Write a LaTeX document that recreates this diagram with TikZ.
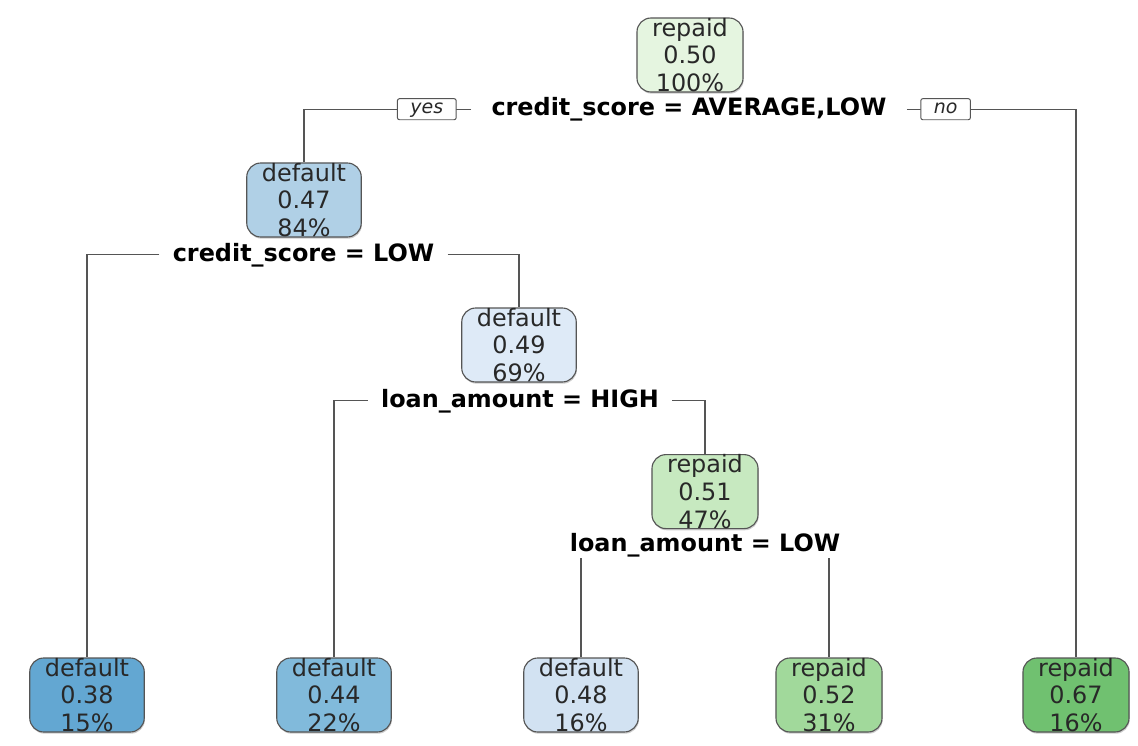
\documentclass[tikz,border=0pt]{standalone}
\usepackage{fontspec}
\setmainfont{DejaVu Sans}
\usepackage{xcolor}
\usetikzlibrary{shadows}
\definecolor{lineGray}{RGB}{85, 85, 85}
\definecolor{textGray}{RGB}{40, 40, 40}
\definecolor{rootGreen}{RGB}{229, 245, 224}
\definecolor{midGreen}{RGB}{199, 233, 192}
\definecolor{leafGreenA}{RGB}{161, 217, 155}
\definecolor{leafGreenB}{RGB}{112, 193, 112}
\definecolor{paleBlue}{RGB}{210, 226, 242}
\definecolor{softBlue}{RGB}{222, 234, 247}
\definecolor{midBlue}{RGB}{176, 208, 230}
\definecolor{leafBlueA}{RGB}{99, 167, 210}
\definecolor{leafBlueB}{RGB}{129, 186, 219}

\begin{document}
\begin{tikzpicture}[
  treebox/.style={draw=lineGray, line width=0.8pt, rounded corners=0.35cm, minimum height=1.85cm, inner xsep=0.38cm, inner ysep=0pt, align=center, text=textGray, font=\fontsize{17}{19.6}\selectfont, drop shadow={shadow xshift=0.5pt, shadow yshift=-1.2pt, fill=black, opacity=0.2}},
  splitlabel/.style={fill=white, inner xsep=0.33cm, inner ysep=1pt, font=\bfseries\fontsize{17}{19.6}\selectfont},
  yesno/.style={draw=lineGray, fill=white, line width=0.7pt, rounded corners=1.5pt, inner xsep=0.325cm, inner ysep=2pt, text height=8.5pt, text depth=2.5pt, font=\itshape\fontsize{13.5}{14}\selectfont, text=textGray},
  branch/.style={draw=lineGray, line width=0.8pt}
]
\useasboundingbox (0,0) rectangle (28.45,-18.65);

% inner nodes
\node[treebox, fill=rootGreen] (n1) at (17.25,-1.375) {repaid\\0.50\\100\%};
\node[treebox, fill=midBlue] (n2) at (7.6,-5.0) {default\\0.47\\84\%};
\node[treebox, fill=softBlue] (n3) at (12.975,-8.625) {default\\0.49\\69\%};
\node[treebox, fill=midGreen] (n4) at (17.625,-12.29) {repaid\\0.51\\47\%};

% leaves
\node[treebox, fill=leafBlueA] (l1) at (2.175,-17.375) {default\\0.38\\15\%};
\node[treebox, fill=leafBlueB] (l2) at (8.35,-17.375) {default\\0.44\\22\%};
\node[treebox, fill=paleBlue] (l3) at (14.525,-17.375) {default\\0.48\\16\%};
\node[treebox, fill=leafGreenA] (l4) at (20.725,-17.375) {repaid\\0.52\\31\%};
\node[treebox, fill=leafGreenB] (l5) at (26.9,-17.375) {repaid\\0.67\\16\%};

% split labels
\node[splitlabel, inner xsep=0.5cm] (s1) at (17.225,-2.73) {credit\_score = AVERAGE,LOW};
\node[splitlabel] (s2) at (7.5875,-6.37) {credit\_score = LOW};
\node[splitlabel] (s3) at (13.0,-10.02) {loan\_amount = HIGH};
\node[splitlabel] (s4) at (17.625,-13.62) {loan\_amount = LOW};

% branches
\draw[branch] (s1.west) -| (n2.north);
\draw[branch] (s1.east) -| (l5.north);
\draw[branch] (s2.west) -| (l1.north);
\draw[branch] (s2.east) -| (n3.north);
\draw[branch] (s3.west) -| (l2.north);
\draw[branch] (s3.east) -| (n4.north);
\draw[branch] (s4.south -| l3.north) -- (l3.north);
\draw[branch] (s4.south -| l4.north) -- (l4.north);

\node[yesno] (yes) at (10.67,-2.73) {yes};
\node[yesno] (no) at (23.64,-2.73) {no};
\end{tikzpicture}
\end{document}
